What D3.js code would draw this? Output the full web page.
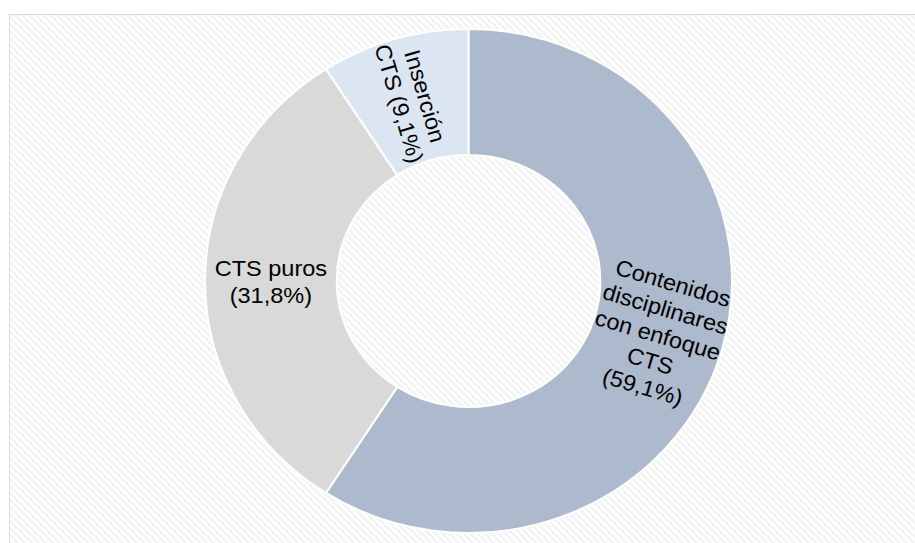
<!DOCTYPE html>
<html>
<head>
<meta charset="utf-8">
<script src="https://cdn.jsdelivr.net/npm/d3@7"></script>
<style>
  body { margin: 0; background: #fff; }
  svg { display: block; }
</style>
</head>
<body>
<div class="graph"></div>
<script>
// data
let categories = ["Contenidos disciplinares con enfoque CTS", "CTS puros", "Inserción CTS"];
let values = [59.1, 31.8, 9.1];
let labelLines = [
    ["Contenidos", "disciplinares", "con enfoque", "CTS", "(59,1%)"],
    ["CTS puros", "(31,8%)"],
    ["Inserción", "CTS (9,1%)"]
];
let colors = ["#adb9cc", "#d9d9d9", "#dce6f2"];

let width = 915, height = 543;
let cx = 468.5, cy = 281,
    outerR = 252, innerR = 126,
    stretch = 263.5 / 252; // chart is a bit wider than tall

let svg = d3.select(".graph").append("svg")
    .attr("width", width)
    .attr("height", height);

// hatched background
let pat = svg.append("defs").append("pattern")
    .attr("id", "hatch")
    .attr("patternUnits", "userSpaceOnUse")
    .attr("width", 7).attr("height", 7);
pat.append("rect").attr("width", 7).attr("height", 7).attr("fill", "#ffffff");
pat.append("path")
    .attr("d", "M-2,-2 L9,9 M-2,5 L2,9 M5,-2 L9,2")
    .attr("stroke", "#f3f3f3")
    .attr("stroke-width", 2.5);

svg.append("rect")
    .attr("x", 9.5).attr("y", 14.5)
    .attr("width", width).attr("height", height)
    .attr("fill", "url(#hatch)")
    .attr("stroke", "#d9d9d9")
    .attr("stroke-width", 1);

let pie = d3.pie().sort(null).value(d => d);
let arcs = pie(values);

let arc = d3.arc().innerRadius(innerR).outerRadius(outerR);

let g = svg.append("g")
    .attr("transform", "translate(" + cx + "," + cy + ") scale(" + stretch + ",1)");

g.selectAll("path")
    .data(arcs)
    .join("path")
    .attr("d", arc)
    .attr("fill", (d, i) => colors[i])
    .attr("stroke", "#ffffff")
    .attr("stroke-width", 2);

// labels at the ring centroid, turned along the slice like Excel does
let midR = (innerR + outerR) / 2;
let lineH = 27;
let labels = svg.append("g").attr("transform", "translate(" + cx + "," + cy + ")");

arcs.forEach((d, i) => {
    let a = (d.startAngle + d.endAngle) / 2;
    let x = Math.sin(a) * midR * stretch,
        y = -Math.cos(a) * midR;
    let rot = a * 180 / Math.PI - 90;
    if (rot > 90) rot -= 180;
    if (rot > 90) rot -= 180;
    if (Math.abs(rot) < 0.5) rot = 0;
    let lines = labelLines[i];
    let t = labels.append("text")
        .attr("transform", "translate(" + x + "," + y + ") rotate(" + rot + ") scale(" + stretch + ",1)")
        .attr("text-anchor", "middle")
        .style("font-family", "'Liberation Sans', Arial, sans-serif")
        .style("font-size", "22.5px")
        .attr("fill", "#000");
    lines.forEach((s, j) => {
        t.append("tspan")
            .attr("x", 0)
            .attr("y", (j - (lines.length - 1) / 2) * lineH + 8.5)
            .text(s);
    });
});
</script>
</body>
</html>
